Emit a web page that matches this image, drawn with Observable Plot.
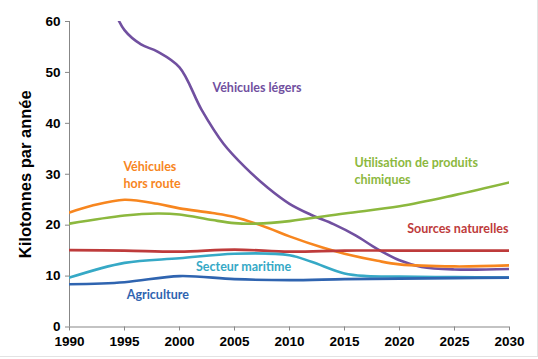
<!DOCTYPE html>
<html>
<head>
<meta charset="utf-8">
<script src="https://cdn.jsdelivr.net/npm/d3@7"></script>
<script src="https://cdn.jsdelivr.net/npm/@observablehq/plot@0.6"></script>
<style>
  html, body { margin: 0; padding: 0; background: #fff; }
  #chart { width: 538px; height: 359px; position: relative; }
  #edge { position: absolute; left: 0; top: 0; width: 537px; height: 356px;
          border-right: 1px solid #e3e3e3; border-bottom: 1px solid #e3e3e3; pointer-events: none; }
</style>
</head>
<body>
<div id="chart"><div id="edge"></div></div>
<script>
// ---- Data (kilotonnes par année) ----
const seriesNames = ["Véhicules légers", "Véhicules hors route", "Utilisation de produits chimiques", "Sources naturelles", "Secteur maritime", "Agriculture"];

const vlYears = [1994, 1995, 1996.5, 1998, 2000, 2002, 2004, 2006, 2008, 2010, 2012, 2014, 2016, 2018, 2020, 2022, 2025, 2030];
const vlValues = [62.5, 58.3, 55.5, 54.1, 51.0, 42.7, 36.0, 31.3, 27.4, 24.2, 22.0, 20.2, 18.0, 15.3, 13.1, 11.8, 11.3, 11.4];

const hrYears = [1990, 1992, 1995, 1998, 2000, 2003, 2005, 2008, 2010, 2013, 2015, 2018, 2020, 2025, 2030];
const hrValues = [22.5, 23.8, 25.0, 24.2, 23.3, 22.4, 21.6, 19.5, 17.8, 15.6, 14.4, 13.0, 12.3, 11.9, 12.1];

const pcYears = [1990, 1995, 1998, 2000, 2003, 2005, 2007, 2010, 2015, 2020, 2025, 2030];
const pcValues = [20.3, 21.9, 22.3, 22.1, 21.0, 20.4, 20.3, 20.8, 22.3, 23.7, 25.9, 28.4];

const snYears = [1990, 1995, 2000, 2005, 2010, 2015, 2020, 2025, 2030];
const snValues = [15.1, 15.0, 14.8, 15.2, 14.8, 15.0, 15.0, 15.0, 15.0];

const smYears = [1990, 1995, 2000, 2005, 2010, 2012, 2015, 2017, 2020, 2025, 2030];
const smValues = [9.7, 12.6, 13.5, 14.4, 14.1, 12.8, 10.5, 10.0, 9.9, 9.8, 9.7];

const agYears = [1990, 1995, 2000, 2005, 2010, 2015, 2020, 2025, 2030];
const agValues = [8.4, 8.8, 10.0, 9.4, 9.2, 9.4, 9.5, 9.6, 9.7];

const xTicks = [1990, 1995, 2000, 2005, 2010, 2015, 2020, 2025, 2030];
const yTicks = [0, 10, 20, 30, 40, 50, 60];
const yLabel = "Kilotonnes par année";

// ---- Build table ----
const colors = ["#7150A0", "#F7861F", "#8CB83E", "#BE3B3B", "#36A9C6", "#2F64B0"];
const seriesData = [
  [vlYears, vlValues], [hrYears, hrValues], [pcYears, pcValues],
  [snYears, snValues], [smYears, smValues], [agYears, agValues]
];
const rows = seriesData.flatMap(([ys, vs], i) =>
  ys.map((y, j) => ({series: seriesNames[i], year: y, value: vs[j]})));

// label placement (data coordinates)
const labels = [
  {series: seriesNames[0], text: "Véhicules légers", year: 2003.0, value: 47.3},
  {series: seriesNames[1], text: "Véhicules\nhors route", year: 1994.9, value: 30.1},
  {series: seriesNames[2], text: "Utilisation de produits\nchimiques", year: 2015.9, value: 30.8},
  {series: seriesNames[3], text: "Sources naturelles", year: 2020.7, value: 19.5},
  {series: seriesNames[4], text: "Secteur maritime", year: 2001.5, value: 12.1},
  {series: seriesNames[5], text: "Agriculture", year: 1995.2, value: 6.5}
];

const chart = Plot.plot({
  width: 538,
  height: 359,
  marginLeft: 69,
  marginRight: 29,
  marginTop: 21,
  marginBottom: 32.5,
  style: {fontFamily: "'Liberation Sans', Arial, sans-serif", background: "transparent"},
  x: {domain: [1990, 2030]},
  y: {domain: [0, 60]},
  color: {domain: seriesNames, range: colors},
  marks: [
    Plot.ruleX([1990], {stroke: "#878787", strokeWidth: 1}),
    Plot.ruleY([0], {stroke: "#878787", strokeWidth: 1}),
    Plot.axisY({ticks: yTicks, tickSize: 4, tickPadding: 5, stroke: "#878787", fill: "#000",
      fontSize: 13.5, fontWeight: "bold", label: yLabel, labelAnchor: "center", labelOffset: 50, labelArrow: "none"}),
    Plot.axisX({ticks: xTicks, tickSize: 4, tickPadding: 5, stroke: "#878787", fill: "#000",
      fontSize: 13.5, fontWeight: "bold", tickFormat: d => String(d), label: null}),
    Plot.line(rows, {x: "year", y: "value", z: "series", stroke: "series",
      curve: "catmull-rom", strokeWidth: 2.6, clip: true}),
    Plot.text(labels, {x: "year", y: "value", text: "text", fill: "series",
      textAnchor: "start", lineAnchor: "middle", lineHeight: 1.35,
      fontSize: 12.5, fontWeight: "bold", fontFamily: "Lato, 'Open Sans', sans-serif"})
  ]
});

const holder = document.getElementById("chart");
holder.insertBefore(chart, holder.firstChild);
d3.select(chart).selectAll('g[aria-label="y-axis label"]')
  .attr("font-size", 16.5).style("font-size", "16.5px");
d3.select(chart).selectAll('g[aria-label="y-axis label"] text')
  .attr("font-size", 16.5).style("font-size", "16.5px").attr("fill", "#000");
</script>
</body>
</html>
